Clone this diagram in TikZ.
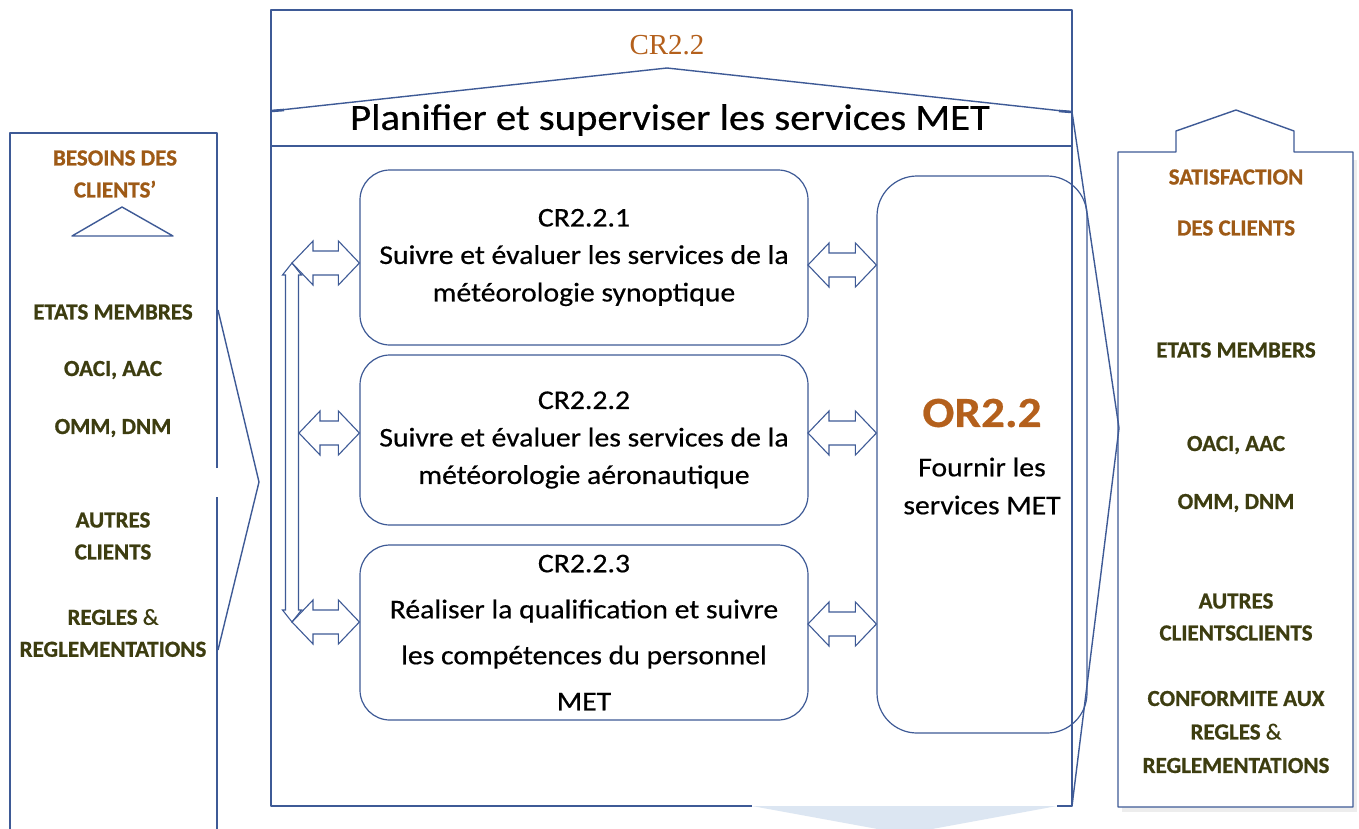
\documentclass[tikz,border=0pt]{standalone}
\usepackage{fontspec}
\setmainfont{Carlito}[FakeStretch=1.1,FakeBold=0.5]
\newfontfamily\sidefont{Carlito}[FakeBold=0.8]
\newfontfamily\serifcr{Liberation Serif}
\usetikzlibrary{calc}
\definecolor{lineblue}{RGB}{62,90,150}
\definecolor{brownt}{RGB}{158,90,22}
\definecolor{olivet}{RGB}{61,61,16}
\definecolor{ortxt}{RGB}{180,96,28}
\definecolor{lightblue}{RGB}{220,230,242}
\tikzset{
  ln/.style={draw=lineblue, line width=1.4pt},
  crbox/.style={draw=lineblue, line width=1.2pt, rounded corners=30pt, inner sep=0pt,
     minimum width=448pt, align=center, text=black},
  blk/.style={draw=lineblue, line width=1.1pt, line join=miter},
  side/.style={font=\sidefont\bfseries\fontsize{23}{32}\selectfont, text=olivet, align=center, inner sep=0pt},
  sidetitle/.style={side, text=brownt},
}
\newcommand\hdbl[2]{\draw[blk] let \p1=(#1), \p2=(#2) in
  (\x1,\y1) -- ++(21pt,22pt) -- ++(0pt,-10pt) -- (\x2-21pt,\y1+12pt) -- ++(0pt,10pt)
  -- (\x2,\y1) -- ++(-21pt,-22pt) -- ++(0pt,10pt) -- (\x1+21pt,\y1-12pt) -- ++(0pt,-10pt) -- cycle;}
\newcommand\vdbl[2]{\draw[blk] let \p1=(#1), \p2=(#2) in
  (\x1,\y1) -- ++(9.5pt,-12pt) -- ++(-3pt,0pt) -- (\x1+6.5pt,\y2+12pt) -- ++(3pt,0pt)
  -- (\x2,\y2) -- ++(-9.5pt,12pt) -- ++(3pt,0pt) -- (\x1-6.5pt,\y1-12pt) -- ++(-3pt,0pt) -- cycle;}
\begin{document}
\begin{tikzpicture}[x=1pt,y=-1pt,line join=round]
\useasboundingbox (0,0) rectangle (1359,828);
\fill[white] (0,0) rectangle (1359,828);

% light blue triangle below main frame
\fill[lightblue] (752,806) -- (1057,806) -- (905,834) -- cycle;

% main frame
\draw[ln] (752,806) -- (271,806) -- (271,10) -- (1072,10) -- (1072,806) -- (1057,806);
\draw[ln] (271,146) -- (1072,146);
\draw[ln] (271,111) -- (667,68) -- (1072,112);
\draw[draw=lineblue, line width=2.6pt] (271,111) -- (284,110);
\draw[draw=lineblue, line width=2.6pt] (1059,111) -- (1072,112);
\node[text=ortxt, font=\serifcr\fontsize{29}{32}\selectfont, inner sep=0pt] (crtop) at (667,45) {CR2.2};
\node[font=\fontsize{37}{40}\selectfont, inner sep=0pt] (title) at (670,120) {Planifier et superviser les services MET};

% left box
\draw[ln] (217,468) -- (217,133) -- (10,133) -- (10,830);
\draw[ln] (217,497) -- (217,830);
\draw[ln] (218,310) -- (259,482) -- (218,650);
\draw[ln] (72,236) -- (122,207) -- (173,236) -- cycle;
\node[sidetitle] (lt) at (115,174) {BESOINS DES\\CLIENTS’};
\node[side] (l1) at (113,312) {ETATS MEMBRES};
\node[side] (l2) at (113,370) {OACI, AAC};
\node[side] (l3) at (113,428) {OMM, DNM};
\node[side] (l4) at (113,536) {AUTRES\\CLIENTS};
\node[side] (l5) at (113,633) {REGLES {\mdseries\&}\\REGLEMENTATIONS};

% right box
\fill[black!7] (1122,160) -- (1357,160) -- (1357,812) -- (1122,812) -- cycle;
\filldraw[ln, fill=white] (1118,807) -- (1118,152) -- (1176,152) -- (1176,131) -- (1236,110)
  -- (1294,131) -- (1294,152) -- (1353,152) -- (1353,807) -- cycle;
\node[sidetitle] (rt1) at (1236,177) {SATISFACTION};
\node[sidetitle] (rt2) at (1236,228) {DES CLIENTS};
\node[side] (r1t) at (1236,350) {ETATS MEMBERS};
\node[side] (r2t) at (1236,445) {OACI, AAC};
\node[side] (r3t) at (1236,503) {OMM, DNM};
\node[side] (r4t) at (1236,617) {AUTRES\\CLIENTSCLIENTS};
\node[side, font=\sidefont\bfseries\fontsize{23}{33.5}\selectfont] (r5t) at (1236,732) {CONFORMITE AUX\\REGLES {\mdseries\&}\\REGLEMENTATIONS};

% right chevron
\draw[ln] (1072,112) -- (1119,428) -- (1072,806);

% OR box
\node[draw=lineblue, line width=1.2pt, rounded corners=40pt, minimum width=210pt,
  minimum height=557pt, inner sep=0pt] (or) at (982,454.5) {};
\node[text=ortxt, font=\bfseries\fontsize{43}{48}\selectfont, inner sep=0pt] (ortitle) at (982,413) {OR2.2};
\node[font=\fontsize{27}{38}\selectfont, align=center, inner sep=0pt] (ortext) at (982,486) {Fournir les\\services MET};

% CR boxes
\node[crbox, minimum height=175pt, font=\fontsize{27}{37.5}\selectfont] (cr1) at (584,257.5)
  {CR2.2.1\\Suivre et évaluer les services de la\\météorologie synoptique};
\node[crbox, minimum height=170pt, font=\fontsize{27}{37.5}\selectfont] (cr2) at (584,440)
  {CR2.2.2\\Suivre et évaluer les services de la\\météorologie aéronautique};
\node[crbox, minimum height=175pt, font=\fontsize{27}{46}\selectfont] (cr3) at (584,632.5)
  {CR2.2.3\\Réaliser la qualification et suivre\\les compétences du personnel\\MET};

% block arrows
\coordinate (vt) at (292,263);
\coordinate (vb) at (292,622);
\coordinate (m2) at (299,433);
\vdbl{vt}{vb}
\hdbl{vt}{vt -| cr1.west}
\hdbl{m2}{m2 -| cr2.west}
\hdbl{vb}{vb -| cr3.west}
\coordinate (e1) at (808,265);
\coordinate (e2) at (808,433);
\coordinate (e3) at (808,624);
\hdbl{e1}{e1 -| or.west}
\hdbl{e2}{e2 -| or.west}
\hdbl{e3}{e3 -| or.west}
\end{tikzpicture}
\end{document}
